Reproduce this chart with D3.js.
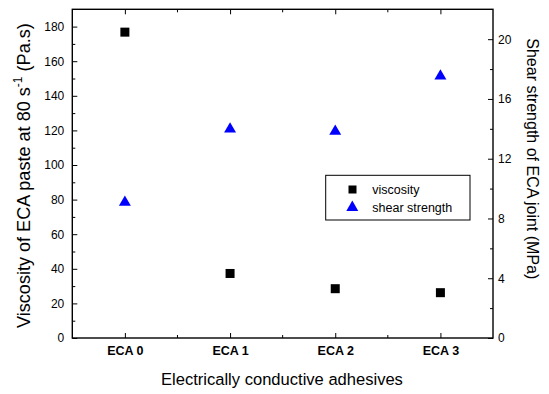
<!DOCTYPE html>
<html>
<head>
<meta charset="utf-8">
<script src="https://cdn.jsdelivr.net/npm/d3@7"></script>
<style>
  body { margin: 0; background: #fff; }
  text { font-family: "Liberation Sans", Arial, sans-serif; fill: #000; }
  .tick line, .domain { stroke: #000; }
</style>
</head>
<body>
<div id="chart"></div>
<script>
// data
var categories = ["ECA 0", "ECA 1", "ECA 2", "ECA 3"];
var viscosity = [176.8, 37.3, 28.5, 26.2];
var shearStrength = [9.15, 14.05, 13.9, 17.6];
var leftTicks = [0, 20, 40, 60, 80, 100, 120, 140, 160, 180];
var rightTicks = [0, 4, 8, 12, 16, 20];

var width = 549, height = 394;
var margin = {top: 9.3, right: 56, bottom: 56, left: 72.3};

var svg = d3.select("#chart").append("svg")
    .attr("width", width)
    .attr("height", height);

var x = d3.scalePoint()
    .domain(categories)
    .range([margin.left, width - margin.right])
    .padding(0.5);

var yLeft = d3.scaleLinear()
    .domain([0, 190])
    .range([height - margin.bottom, margin.top]);

var yRight = d3.scaleLinear()
    .domain([0, 22])
    .range([height - margin.bottom, margin.top]);

var bottom = height - margin.bottom;
var right = width - margin.right;

// minor tick positions between categories
var step = x.step();
var midTicks = categories.slice(1).map(function(c) { return x(c) - step / 2; });

// minor ticks (no labels)
svg.append("g")
    .attr("transform", "translate(" + margin.left + ",0)")
    .call(d3.axisLeft(yLeft).tickValues(d3.range(10, 190, 20)).tickSize(-3).tickFormat(""))
    .call(function(g) { g.select(".domain").remove(); });

svg.append("g")
    .attr("transform", "translate(" + right + ",0)")
    .call(d3.axisRight(yRight).tickValues(d3.range(2, 22, 4)).tickSize(-3).tickFormat(""))
    .call(function(g) { g.select(".domain").remove(); });

[bottom, margin.top].forEach(function(yy, i) {
    svg.append("g").selectAll("line")
        .data(midTicks)
        .enter()
        .append("line")
        .attr("x1", function(d) { return d; })
        .attr("x2", function(d) { return d; })
        .attr("y1", yy)
        .attr("y2", i === 0 ? yy - 3 : yy + 3)
        .attr("stroke", "#000");
});

// major axes
var leftAxis = svg.append("g")
    .attr("transform", "translate(" + margin.left + ",0)")
    .call(d3.axisLeft(yLeft).tickValues(leftTicks).tickSize(-5).tickPadding(8));

var rightAxis = svg.append("g")
    .attr("transform", "translate(" + right + ",0)")
    .call(d3.axisRight(yRight).tickValues(rightTicks).tickSize(-5).tickPadding(5));

var bottomAxis = svg.append("g")
    .attr("transform", "translate(0," + bottom + ")")
    .call(d3.axisBottom(x).tickSize(-5).tickPadding(8));

var topAxis = svg.append("g")
    .attr("transform", "translate(0," + margin.top + ")")
    .call(d3.axisTop(x).tickSize(-5).tickFormat(""));

[leftAxis, rightAxis, bottomAxis, topAxis].forEach(function(g) {
    g.select(".domain").remove();
    g.selectAll("text").style("font-size", "12px").attr("fill", "#000");
});
bottomAxis.selectAll("text").style("font-weight", "bold").style("font-size", "12.5px");

// frame
svg.append("rect")
    .attr("x", margin.left)
    .attr("y", margin.top)
    .attr("width", right - margin.left)
    .attr("height", bottom - margin.top)
    .attr("fill", "none")
    .attr("stroke", "#000")
    .attr("stroke-width", 1.4);

// viscosity squares
svg.append("g").selectAll("rect")
    .data(viscosity)
    .enter()
    .append("rect")
    .attr("x", function(d, i) { return x(categories[i]) - 4.5; })
    .attr("y", function(d) { return yLeft(d) - 4.5; })
    .attr("width", 9)
    .attr("height", 9)
    .attr("fill", "#000");

// shear strength triangles
var tri = d3.symbol().type(d3.symbolTriangle).size(62);
svg.append("g").selectAll("path")
    .data(shearStrength)
    .enter()
    .append("path")
    .attr("d", tri)
    .attr("transform", function(d, i) {
        return "translate(" + x(categories[i]) + "," + (yRight(d) + 1) + ")";
    })
    .attr("fill", "#0000ff");

// legend
var legend = svg.append("g");
legend.append("rect")
    .attr("x", 325.7)
    .attr("y", 175.3)
    .attr("width", 144.3)
    .attr("height", 44.7)
    .attr("fill", "#fff")
    .attr("stroke", "#000")
    .attr("stroke-width", 1);
legend.append("rect")
    .attr("x", 348.5).attr("y", 185.5)
    .attr("width", 8).attr("height", 8)
    .attr("fill", "#000");
legend.append("path")
    .attr("d", tri)
    .attr("transform", "translate(352.3,207.5)")
    .attr("fill", "#0000ff");
legend.append("text")
    .attr("x", 372.3).attr("y", 194)
    .style("font-size", "12.5px")
    .text("viscosity");
legend.append("text")
    .attr("x", 372.3).attr("y", 211.5)
    .style("font-size", "12.5px")
    .text("shear strength");

// scale a title's font so that it spans the wanted length
function fitText(t, len) {
    var w = t.node().getBBox().width;
    var fs = parseFloat(t.style("font-size"));
    var k = len / w;
    t.style("font-size", (fs * k) + "px");
    t.selectAll("tspan").each(function() {
        var s = d3.select(this);
        if (s.attr("data-fs")) s.style("font-size", (+s.attr("data-fs") * k) + "px");
        if (s.attr("data-dy")) s.attr("dy", +s.attr("data-dy") * k);
    });
}

// axis titles
var xt = svg.append("text")
    .attr("x", 161)
    .attr("y", 385)
    .style("font-size", "15px")
    .text("Electrically conductive adhesives");
fitText(xt, 242);

var lt = svg.append("text")
    .attr("transform", "translate(29.5,328) rotate(-90)")
    .style("font-size", "15px");
lt.append("tspan").text("Viscosity of ECA paste at 80 s");
lt.append("tspan").attr("data-dy", -6).attr("dy", -6)
    .attr("data-fs", 10).style("font-size", "10px").text("-1");
lt.append("tspan").attr("data-dy", 6).attr("dy", 6).text(" (Pa.s)");
fitText(lt, 305);

svg.append("text")
    .attr("transform", "translate(526.5,38.3) rotate(90)")
    .style("font-size", "16px")
    .text("Shear strength of ECA joint (MPa)");
</script>
</body>
</html>
